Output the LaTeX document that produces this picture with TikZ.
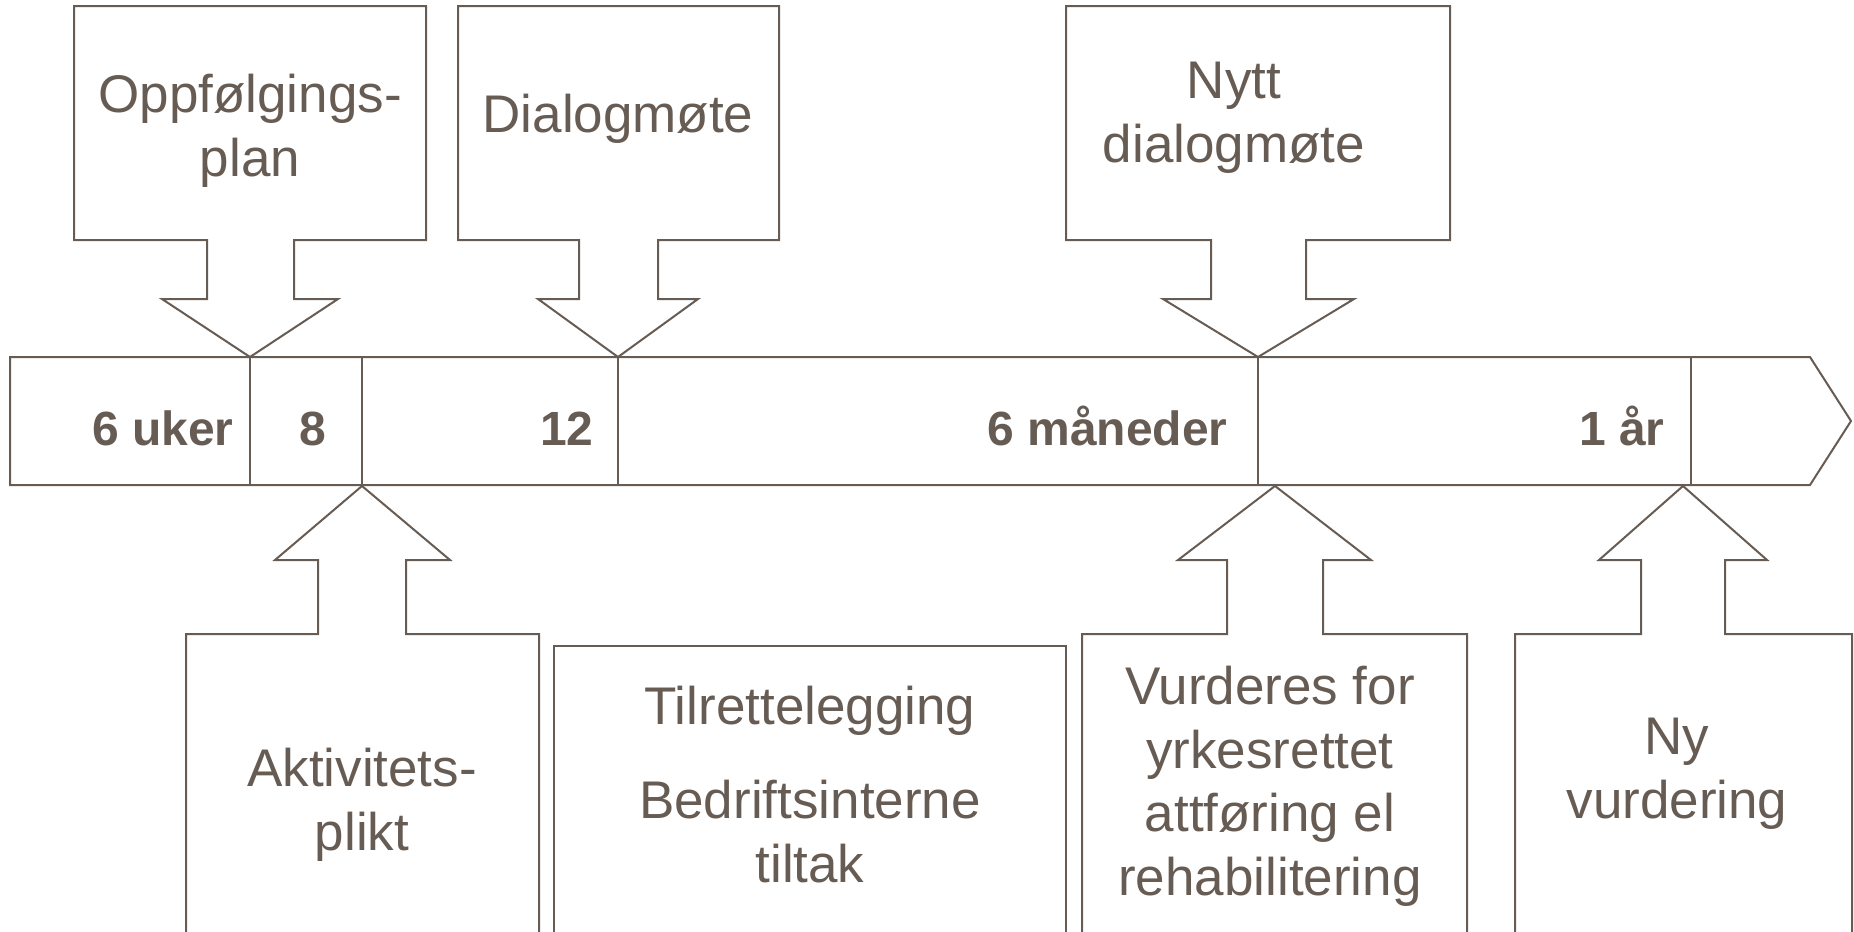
\documentclass[tikz,border=0pt]{standalone}
\usepackage{fontspec}
\setmainfont{Liberation Sans}
\definecolor{ink}{RGB}{103,92,83}
\begin{document}
\begin{tikzpicture}[x=0.5pt,y=-0.5pt,
  outline/.style={draw=ink, line width=1pt, line join=miter},
  lbl/.style={text=ink, font=\fontsize{26.5}{31.75}\selectfont, align=center, inner sep=0pt, anchor=base},
  tick/.style={text=ink, font=\bfseries\fontsize{24}{28}\selectfont, inner sep=0pt, anchor=base east}]
\useasboundingbox (0,0) rectangle (1854,932);
% timeline bar
\draw[outline] (10,357) -- (1810,357) -- (1851,421) -- (1810,485) -- (10,485) -- cycle;
\coordinate (d1t) at (250,357);  \coordinate (d1b) at (250,485);
\coordinate (d2t) at (362,357);  \coordinate (d2b) at (362,485);
\coordinate (d3t) at (618,357);  \coordinate (d3b) at (618,485);
\coordinate (d4t) at (1258,357); \coordinate (d4b) at (1258,485);
\coordinate (d5t) at (1691,357); \coordinate (d5b) at (1691,485);
\draw[outline] (d1t) -- (d1b) (d2t) -- (d2b) (d3t) -- (d3b) (d4t) -- (d4b) (d5t) -- (d5b);
% tick labels
\node[tick] (t1) at (234,445) {6 uker};
\node[tick] (t2) at (327,445) {8};
\node[tick] (t3) at (594,445) {12};
\node[tick] (t4) at (1228,445) {6 måneder};
\node[tick] (t5) at (1665,445) {1 år};
% top callouts
\draw[outline] (74,6) -- (426,6) -- (426,240) -- (294,240) -- (294,299) -- (338,299) -- (d1t) -- (162,299) -- (207,299) -- (207,240) -- (74,240) -- cycle;
\draw[outline] (458,6) -- (779,6) -- (779,240) -- (658,240) -- (658,299) -- (698,299) -- (d3t) -- (538,299) -- (579,299) -- (579,240) -- (458,240) -- cycle;
\draw[outline] (1066,6) -- (1450,6) -- (1450,240) -- (1306,240) -- (1306,299) -- (1354,299) -- (d4t) -- (1163,299) -- (1211,299) -- (1211,240) -- (1066,240) -- cycle;
\node[lbl] (oppf) at (250,176) {Oppfølgings-\\plan};
\node[lbl] (dial) at (618,132) {Dialogmøte};
\node[lbl] (nytt) at (1234,162) {Nytt\\dialogmøte};
% bottom callouts
\coordinate (a1) at (362,486);
\coordinate (a3) at (1275,486);
\coordinate (a4) at (1683,486);
\draw[outline] (186,932) -- (186,634) -- (318,634) -- (318,560) -- (275,560) -- (a1) -- (450,560) -- (406,560) -- (406,634) -- (539,634) -- (539,932);
\draw[outline] (554,932) -- (554,646) -- (1066,646) -- (1066,932);
\draw[outline] (1082,932) -- (1082,634) -- (1227,634) -- (1227,560) -- (1178,560) -- (a3) -- (1371,560) -- (1323,560) -- (1323,634) -- (1467,634) -- (1467,932);
\draw[outline] (1515,932) -- (1515,634) -- (1641,634) -- (1641,560) -- (1599,560) -- (a4) -- (1767,560) -- (1725,560) -- (1725,634) -- (1852,634) -- (1852,932);
\node[lbl] (akt) at (362,850) {Aktivitets-\\plikt};
\node[lbl] (tilr) at (810,882) {Tilrettelegging\\[0.58em]Bedriftsinterne\\tiltak};
\node[lbl] (vurd) at (1270,895) {Vurderes for\\yrkesrettet\\attføring el\\rehabilitering};
\node[lbl] (ny) at (1677,818) {Ny\\vurdering};
\end{tikzpicture}
\end{document}
